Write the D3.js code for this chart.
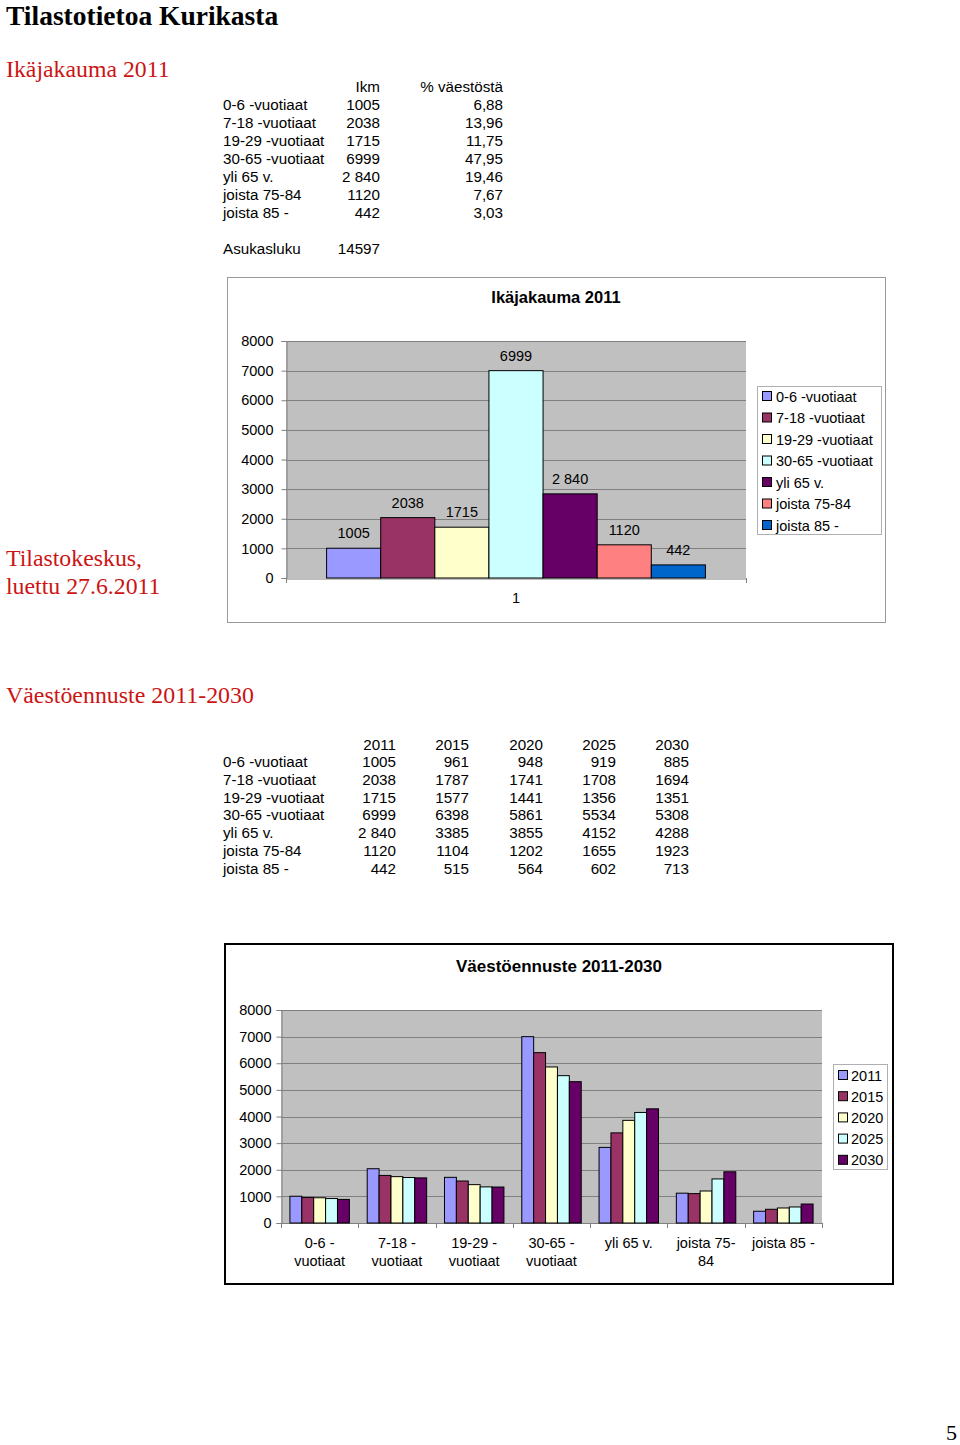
<!DOCTYPE html>
<html><head><meta charset="utf-8">
<script src="https://cdn.jsdelivr.net/npm/d3@7"></script>
<style>
html,body{margin:0;padding:0;background:#fff;}
svg{display:block;}
</style></head>
<body>
<svg id="page" width="960" height="1445"></svg>
<script>
// ---------- data ----------
const categories = ["0-6 -vuotiaat","7-18 -vuotiaat","19-29 -vuotiaat","30-65 -vuotiaat","yli 65 v.","joista 75-84","joista 85 -"];
const axisLabels = [["0-6 -","vuotiaat"],["7-18 -","vuotiaat"],["19-29 -","vuotiaat"],["30-65 -","vuotiaat"],["yli 65 v."],["joista 75-","84"],["joista 85 -"]];
const years = ["2011","2015","2020","2025","2030"];
const v2011 = [1005, 2038, 1715, 6999, 2840, 1120, 442];
const v2015 = [961, 1787, 1577, 6398, 3385, 1104, 515];
const v2020 = [948, 1741, 1441, 5861, 3855, 1202, 564];
const v2025 = [919, 1708, 1356, 5534, 4152, 1655, 602];
const v2030 = [885, 1694, 1351, 5308, 4288, 1923, 713];
const v2011Text = ["1005","2038","1715","6999","2 840","1120","442"];
const pct = ["6,88","13,96","11,75","47,95","19,46","7,67","3,03"];
const population = 14597;
const yTicks = [0,1000,2000,3000,4000,5000,6000,7000,8000];
const catColors = ["#9999FF","#993366","#FFFFCC","#CCFFFF","#660066","#FF8080","#0066CC"];
const yearColors = ["#9999FF","#993366","#FFFFCC","#CCFFFF","#660066"];
const seriesByYear = [v2011, v2015, v2020, v2025, v2030];

const SANS = "'Liberation Sans', Arial, Helvetica, sans-serif";
const SERIF = "'Liberation Serif', 'Times New Roman', serif";
const RED = "#cc1414";

const svg = d3.select("#page");

// ---------- headings ----------
svg.append("text").attr("x",6).attr("y",24.5).attr("font-family",SERIF).attr("font-weight","bold")
  .attr("font-size",27.5).attr("fill","#000").text("Tilastotietoa Kurikasta");
svg.append("text").attr("x",6).attr("y",77).attr("font-family",SERIF).attr("font-size",23.8)
  .attr("fill",RED).text("Ikäjakauma 2011");
const src = svg.append("text").attr("font-family",SERIF).attr("font-size",23.8).attr("fill",RED);
src.append("tspan").attr("x",6).attr("y",566).text("Tilastokeskus,");
src.append("tspan").attr("x",6).attr("y",594).text("luettu 27.6.2011");
svg.append("text").attr("x",6).attr("y",703).attr("font-family",SERIF).attr("font-size",23.9)
  .attr("fill",RED).text("Väestöennuste 2011-2030");
svg.append("text").attr("x",957).attr("y",1440).attr("text-anchor","end").attr("font-family",SERIF)
  .attr("font-size",22).attr("fill","#000").text("5");

// ---------- table 1 ----------
const t1 = svg.append("g").attr("font-family",SANS).attr("font-size",15.2).attr("fill","#000");
t1.append("text").attr("x",380).attr("y",92).attr("text-anchor","end").text("Ikm");
t1.append("text").attr("x",503).attr("y",92).attr("text-anchor","end").text("% väestöstä");
categories.forEach((c,i)=>{
  const y = 110 + i*18;
  t1.append("text").attr("x",223).attr("y",y).text(c);
  t1.append("text").attr("x",380).attr("y",y).attr("text-anchor","end").text(v2011Text[i]);
  t1.append("text").attr("x",503).attr("y",y).attr("text-anchor","end").text(pct[i]);
});
t1.append("text").attr("x",223).attr("y",254).text("Asukasluku");
t1.append("text").attr("x",380).attr("y",254).attr("text-anchor","end").text(population);

// ---------- table 2 ----------
const t2 = svg.append("g").attr("font-family",SANS).attr("font-size",15.2).attr("fill","#000");
const colX = [396,469,543,616,689];
years.forEach((yr,j)=>t2.append("text").attr("x",colX[j]).attr("y",750).attr("text-anchor","end").text(yr));
categories.forEach((c,i)=>{
  const y = 767 + i*17.83;
  t2.append("text").attr("x",223).attr("y",y).text(c);
  seriesByYear.forEach((s,j)=>{
    t2.append("text").attr("x",colX[j]).attr("y",y).attr("text-anchor","end")
      .text(j===0 ? v2011Text[i] : s[i]);
  });
});

// ---------- chart 1 ----------
(function(){
  const g = svg.append("g");
  g.append("rect").attr("x",227.5).attr("y",277.5).attr("width",658).attr("height",345)
    .attr("fill","#fff").attr("stroke","#9a9a9a").attr("stroke-width",1);
  g.append("text").attr("x",556).attr("y",303).attr("text-anchor","middle").attr("font-family",SANS)
    .attr("font-weight","bold").attr("font-size",16.5).text("Ikäjakauma 2011");

  const L=286,R=746,T=341,B=578;
  const y = d3.scaleLinear().domain([0,8000]).range([B,T]);
  const pi = 1.5/8.5;
  const x0 = d3.scaleBand().domain(["1"]).range([L,R]).paddingInner(pi).paddingOuter(pi/2);
  const x1 = d3.scaleBand().domain(categories).range([0,x0.bandwidth()]);

  g.append("rect").attr("x",L).attr("y",T).attr("width",R-L).attr("height",B-T).attr("fill","#c0c0c0");
  g.append("g").selectAll("line").data(yTicks.filter(d=>d>0)).join("line")
    .attr("x1",L).attr("x2",R).attr("y1",d=>Math.round(y(d))+0.5).attr("y2",d=>Math.round(y(d))+0.5)
    .attr("stroke","#808080").attr("stroke-width",1);

  const yAxis = g.append("g").attr("transform",`translate(${L+0.5},0)`)
    .call(d3.axisLeft(y).tickValues(yTicks).tickSize(5).tickPadding(8).tickFormat(d3.format("d")));
  yAxis.select(".domain").attr("stroke","#808080");
  yAxis.selectAll(".tick line").attr("stroke","#808080");
  yAxis.selectAll("text").attr("font-family",SANS).attr("font-size",14.5).attr("fill","#000");

  const xAxis = g.append("g").attr("transform",`translate(0,${B+0.5})`)
    .call(d3.axisBottom(x0).tickSize(0).tickPadding(14));
  xAxis.select(".domain").attr("stroke","#808080");
  xAxis.selectAll("text").attr("font-family",SANS).attr("font-size",14.5).attr("fill","#000");
  g.append("g").selectAll("line").data([L,R]).join("line")
    .attr("x1",d=>d+0.5).attr("x2",d=>d+0.5).attr("y1",B).attr("y2",B+5).attr("stroke","#808080");

  const bars = g.append("g").attr("transform",`translate(${x0("1")},0)`);
  bars.selectAll("rect").data(v2011).join("rect")
    .attr("x",(d,i)=>x1(categories[i])).attr("width",x1.bandwidth())
    .attr("y",d=>y(d)).attr("height",d=>B-y(d))
    .attr("fill",(d,i)=>catColors[i]).attr("stroke","#000").attr("stroke-width",1);
  bars.selectAll("text").data(v2011).join("text")
    .attr("x",(d,i)=>x1(categories[i])+x1.bandwidth()/2).attr("y",d=>y(d)-10)
    .attr("text-anchor","middle").attr("font-family",SANS).attr("font-size",14.5)
    .text((d,i)=>v2011Text[i]);

  // legend
  const lg = g.append("g");
  lg.append("rect").attr("x",757.5).attr("y",386.5).attr("width",124).attr("height",148)
    .attr("fill","#fff").attr("stroke","#b0b0b0");
  categories.forEach((c,i)=>{
    const cy = 396.5 + i*21.5;
    lg.append("rect").attr("x",762.5).attr("y",cy-5).attr("width",9).attr("height",9)
      .attr("fill",catColors[i]).attr("stroke","#000");
    lg.append("text").attr("x",776).attr("y",cy+5).attr("font-family",SANS).attr("font-size",14.5).text(c);
  });
})();

// ---------- chart 2 ----------
(function(){
  const g = svg.append("g");
  g.append("rect").attr("x",225).attr("y",944).attr("width",668).attr("height",340)
    .attr("fill","#fff").attr("stroke","#000").attr("stroke-width",2);
  g.append("text").attr("x",559).attr("y",972).attr("text-anchor","middle").attr("font-family",SANS)
    .attr("font-weight","bold").attr("font-size",17).text("Väestöennuste 2011-2030");

  const L=281,R=822,T=1010,B=1223;
  const y = d3.scaleLinear().domain([0,8000]).range([B,T]);
  const pi = 1.5/6.5;
  const x0 = d3.scaleBand().domain(categories).range([L,R]).paddingInner(pi).paddingOuter(pi/2);
  const x1 = d3.scaleBand().domain(years).range([0,x0.bandwidth()]);
  const step = x0.step();

  g.append("rect").attr("x",L).attr("y",T).attr("width",R-L).attr("height",B-T).attr("fill","#c0c0c0");
  g.append("g").selectAll("line").data(yTicks.filter(d=>d>0)).join("line")
    .attr("x1",L).attr("x2",R).attr("y1",d=>Math.round(y(d))+0.5).attr("y2",d=>Math.round(y(d))+0.5)
    .attr("stroke","#808080");

  const yAxis = g.append("g").attr("transform",`translate(${L+0.5},0)`)
    .call(d3.axisLeft(y).tickValues(yTicks).tickSize(5).tickPadding(5).tickFormat(d3.format("d")));
  yAxis.select(".domain").attr("stroke","#808080");
  yAxis.selectAll(".tick line").attr("stroke","#808080");
  yAxis.selectAll("text").attr("font-family",SANS).attr("font-size",14.5).attr("fill","#000");

  g.append("line").attr("x1",L).attr("x2",R).attr("y1",B+0.5).attr("y2",B+0.5).attr("stroke","#808080");
  g.append("g").selectAll("line").data(d3.range(categories.length+1)).join("line")
    .attr("x1",k=>Math.round(L+k*step)+0.5).attr("x2",k=>Math.round(L+k*step)+0.5)
    .attr("y1",B).attr("y2",B+5).attr("stroke","#808080");

  categories.forEach((c,i)=>{
    const gx = g.append("g").attr("transform",`translate(${x0(c)},0)`);
    gx.selectAll("rect").data(seriesByYear.map(s=>s[i])).join("rect")
      .attr("x",(d,j)=>x1(years[j])).attr("width",x1.bandwidth())
      .attr("y",d=>y(d)).attr("height",d=>B-y(d))
      .attr("fill",(d,j)=>yearColors[j]).attr("stroke","#000").attr("stroke-width",1);
    const t = g.append("text").attr("text-anchor","middle").attr("font-family",SANS).attr("font-size",14.5);
    axisLabels[i].forEach((ln,k)=>{
      t.append("tspan").attr("x",x0(c)+x0.bandwidth()/2).attr("y",1248+k*18).text(ln);
    });
  });

  const lg = g.append("g");
  lg.append("rect").attr("x",833.5).attr("y",1064.5).attr("width",54).attr("height",105)
    .attr("fill","#fff").attr("stroke","#b0b0b0");
  years.forEach((yr,j)=>{
    const cy = 1075.5 + j*21.2;
    lg.append("rect").attr("x",838.5).attr("y",cy-5).attr("width",9).attr("height",9)
      .attr("fill",yearColors[j]).attr("stroke","#000");
    lg.append("text").attr("x",851).attr("y",cy+5).attr("font-family",SANS).attr("font-size",14.5).text(yr);
  });
})();
</script>
</body></html>
